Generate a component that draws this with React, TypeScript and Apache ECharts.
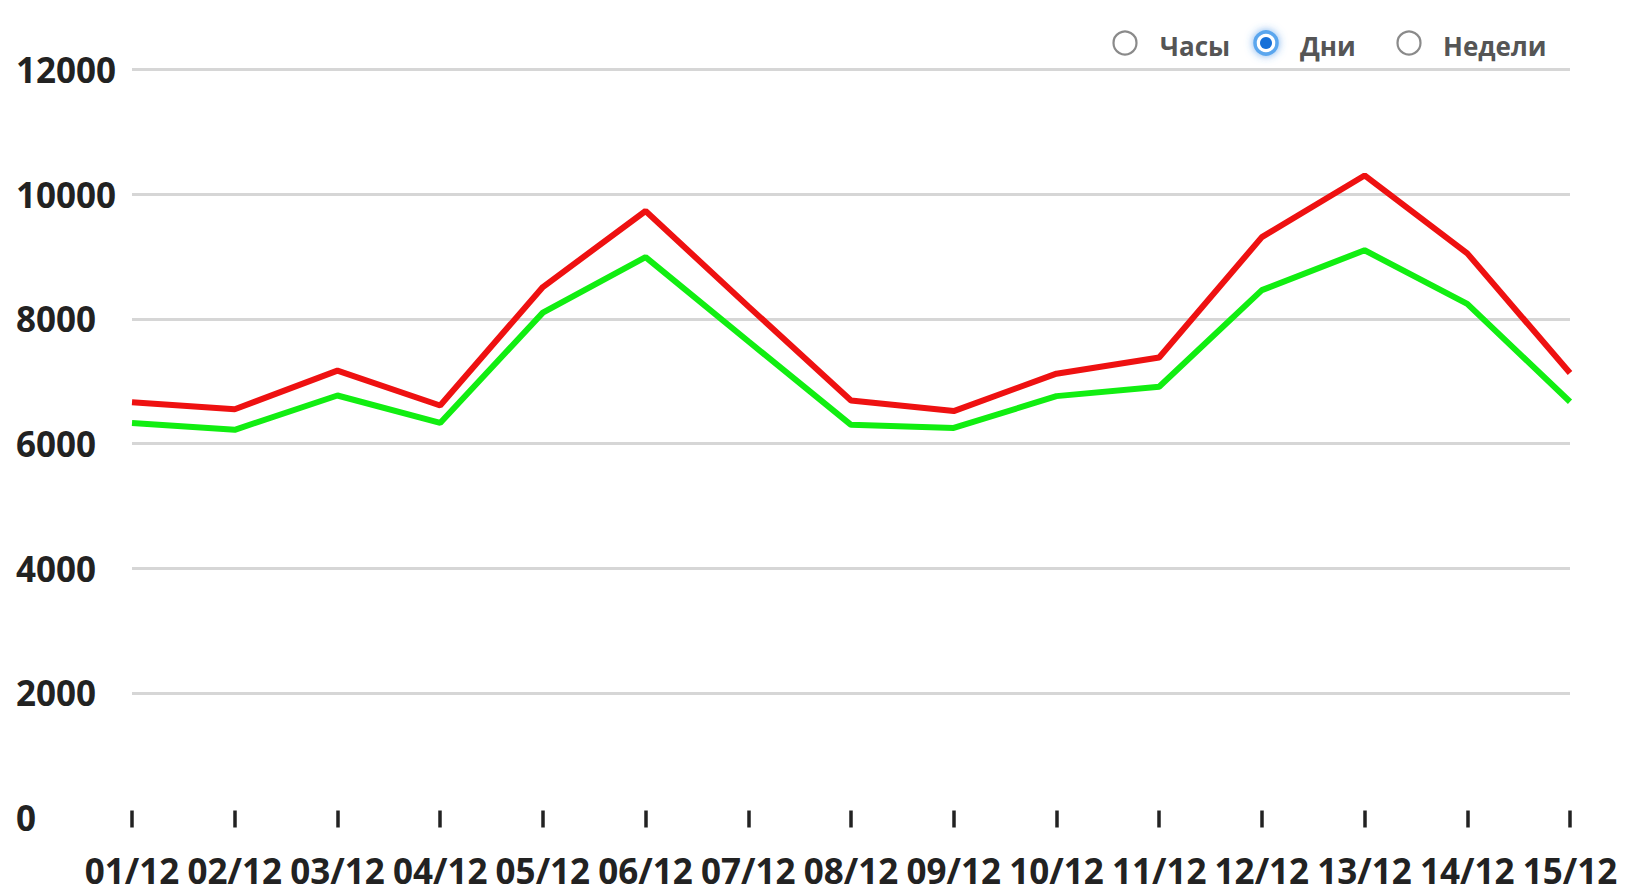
import React, { useEffect, useRef } from "react";
import * as echarts from "echarts";

const categories = ["01/12", "02/12", "03/12", "04/12", "05/12", "06/12", "07/12", "08/12", "09/12", "10/12", "11/12", "12/12", "13/12", "14/12", "15/12"];
const redValues = [6660, 6550, 7170, 6610, 8510, 9730, 8200, 6690, 6520, 7120, 7380, 9310, 10300, 9050, 7130];
const greenValues = [6330, 6220, 6770, 6330, 8100, 8990, 7640, 6300, 6250, 6760, 6910, 8460, 9100, 8240, 6670];
const legendItems = ["Часы", "Дни", "Недели"];
const selectedLegend = 1;

export default function App() {
  const ref = useRef<HTMLDivElement>(null);
  useEffect(() => {
    if (!ref.current) return;
    const chart = echarts.init(ref.current, null, { renderer: "svg" });
    const circleX = [1125, 1266, 1409];
    const textX = [1160, 1300, 1443];
    const legendGraphics: any[] = [];
    legendItems.forEach((name, i) => {
      if (i === selectedLegend) {
        legendGraphics.push({
          type: "circle",
          shape: { cx: circleX[i], cy: 43, r: 11 },
          style: { fill: "#fff", stroke: "#5aa6ee", lineWidth: 3.5, shadowBlur: 8, shadowColor: "rgba(60,140,230,0.7)" },
        });
        legendGraphics.push({
          type: "circle",
          shape: { cx: circleX[i], cy: 43, r: 6 },
          style: { fill: "#1670d8" },
        });
      } else {
        legendGraphics.push({
          type: "circle",
          shape: { cx: circleX[i], cy: 43, r: 11.5 },
          style: { fill: "#fff", stroke: "#8a8a8a", lineWidth: 2.2 },
        });
      }
      legendGraphics.push({
        type: "text",
        x: textX[i],
        y: 46,
        style: {
          text: name,
          fill: "#555",
          font: "bold 26px 'Open Sans'",
          verticalAlign: "middle",
          align: "left",
        },
      });
    });

    chart.setOption({
      animation: false,
      backgroundColor: "#fff",
      grid: { left: 132, right: 59, top: 69.5, bottom: 74.5 },
      xAxis: {
        type: "category",
        data: categories,
        boundaryGap: false,
        offset: -7,
        axisLine: { show: false },
        axisTick: { show: true, length: 17, lineStyle: { color: "#222", width: 3.5 } },
        axisLabel: {
          interval: 0,
          margin: 42,
          color: "#222",
          fontFamily: "Open Sans",
          fontWeight: "bold",
          fontSize: 35,
        },
      },
      yAxis: {
        type: "value",
        min: 0,
        max: 12000,
        interval: 2000,
        axisLine: { show: false },
        axisTick: { show: false },
        axisLabel: {
          align: "left",
          margin: 116,
          color: "#222",
          fontFamily: "Open Sans",
          fontWeight: "bold",
          fontSize: 35,
          formatter: (v: number) => String(v),
        },
        splitLine: {
          show: true,
          lineStyle: {
            color: ["rgba(0,0,0,0)", "#d6d6d6", "#d6d6d6", "#d6d6d6", "#d6d6d6", "#d6d6d6", "#d6d6d6"],
            width: 3,
          },
        },
      },
      series: [
        {
          type: "line",
          data: redValues,
          symbol: "none",
          lineStyle: { color: "#ee1111", width: 6 },
        },
        {
          type: "line",
          data: greenValues,
          symbol: "none",
          lineStyle: { color: "#11ee11", width: 6 },
        },
      ],
      graphic: legendGraphics,
    });
    return () => chart.dispose();
  }, []);
  return (
    <div
      ref={ref}
      style={{ position: "absolute", left: 0, top: 0, width: 1629, height: 892 }}
    />
  );
}
